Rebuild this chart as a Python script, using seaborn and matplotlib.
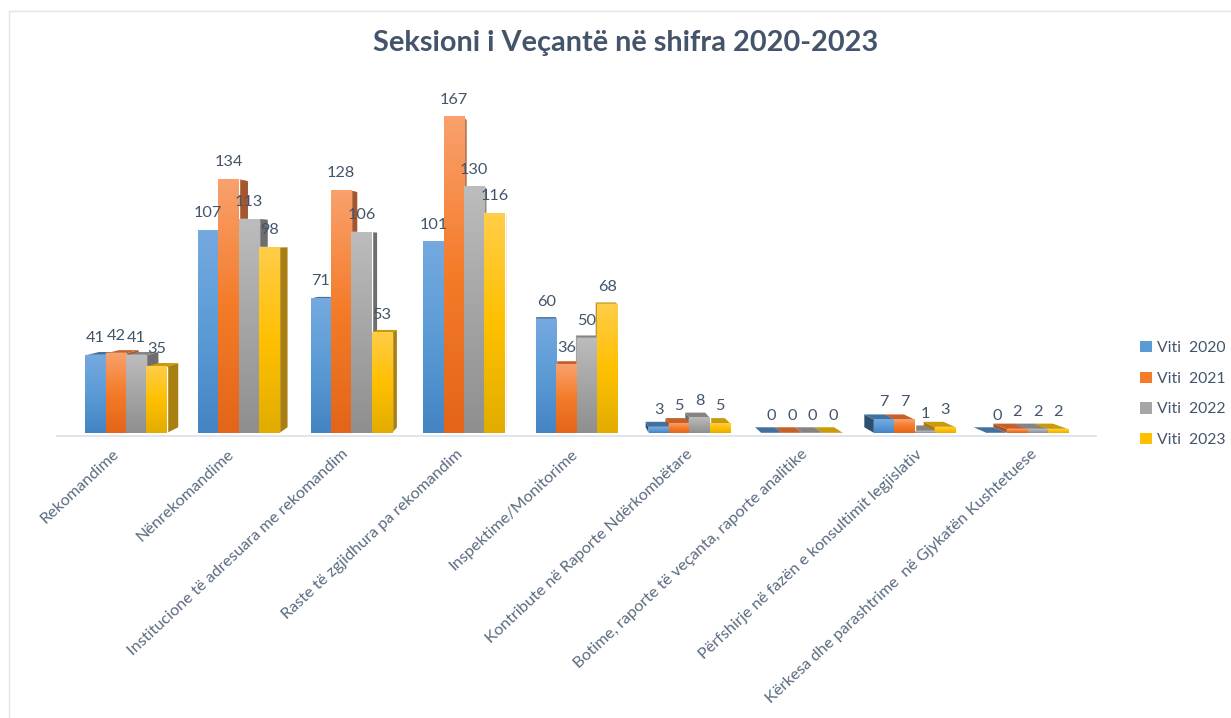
import numpy as np
import pandas as pd
import matplotlib
matplotlib.use("Agg")
import matplotlib.pyplot as plt
import seaborn as sns
from matplotlib.colors import LinearSegmentedColormap
from matplotlib.lines import Line2D
from matplotlib.patches import Polygon, Rectangle
from matplotlib.transforms import ScaledTranslation

categories = [
    "Rekomandime",
    "Nënrekomandime",
    "Institucione të adresuara me rekomandim",
    "Raste të zgjidhura pa rekomandim",
    "Inspektime/Monitorime",
    "Kontribute në Raporte Ndërkombëtare",
    "Botime, raporte të veçanta, raporte analitike",
    "Përfshirje në fazën e konsultimit legjislativ",
    "Kërkesa dhe parashtrime  në Gjykatën Kushtetuese",
]
series_names = ["Viti  2020", "Viti  2021", "Viti  2022", "Viti  2023"]
v2020 = [41, 107, 71, 101, 60, 3, 0, 7, 0]
v2021 = [42, 134, 128, 167, 36, 5, 0, 7, 2]
v2022 = [41, 113, 106, 130, 50, 8, 0, 1, 2]
v2023 = [35, 98, 53, 116, 68, 5, 0, 3, 2]

base_colors = ["#5b9bd5", "#f47b28", "#a5a5a5", "#ffc000"]
top_colors = ["#75a9e0", "#f9a06c", "#bcbcbc", "#ffcd48"]
low_colors = ["#4484c4", "#e4651a", "#8f8f8f", "#e2ad00"]
side_colors = ["#2d4f70", "#a5562d", "#6e6e6e", "#a87f10"]
cap_colors = ["#41719c", "#c5602a", "#848484", "#c99a0a"]
text_color = "#44546a"

# depth of the fake 3d, everything recedes to this point in data units
vanish_x, vanish_y = 3.75, 100
depth = 0.03

rows = []
for name, vals in zip(series_names, [v2020, v2021, v2022, v2023]):
    for cat, v in zip(categories, vals):
        rows.append({"cat": cat, "serie": name, "value": v})
df = pd.DataFrame(rows)

sns.set_theme(style="white")
plt.rcParams["font.family"] = ["Lato", "DejaVu Sans"]

W, H = 1231, 718
fig = plt.figure(figsize=(W / 100, H / 100), dpi=100, facecolor="white")
ax = fig.add_axes([57 / W, 1 - 436 / H, (1096 - 57) / W, (436 - 60) / H])

sns.barplot(data=df, x="cat", y="value", hue="serie", order=categories,
            hue_order=series_names, palette=base_colors, width=0.724,
            gap=0, saturation=1, dodge=True, legend=False, ax=ax, zorder=3)

xlim = (-0.612, 8.607)
ylim = (-1.6, 197)


def back(x, y):
    return x + depth * (vanish_x - x), y + depth * (vanish_y - y)


# back faces first, then gradient fronts on top
for s, cont in enumerate(ax.containers):
    cmap = LinearSegmentedColormap.from_list(
        "g%d" % s, [top_colors[s], base_colors[s], low_colors[s]])
    grad = np.linspace(0, 1, 64).reshape(-1, 1)
    for i, bar in enumerate(cont):
        x0, x1 = bar.get_x(), bar.get_x() + bar.get_width()
        h = bar.get_height()
        # left to right on the left part of the chart, the other way on the right
        order = s if x0 < vanish_x else 10 - s
        edge = x1 if x1 < vanish_x else x0
        ex, ey = back(edge, h)
        bx, by = back(edge, 0)
        ax.add_patch(Polygon([(edge, 0), (edge, h), (ex, ey), (bx, by)],
                             facecolor=side_colors[s], edgecolor="none", zorder=1 + order * 0.01))
        lx, ly = back(x0, h)
        rx, ry = back(x1, h)
        ax.add_patch(Polygon([(x0, h), (x1, h), (rx, ry), (lx, ly)],
                             facecolor=cap_colors[s], edgecolor="none", zorder=1.5 + order * 0.01))
        if h > 0:
            ax.imshow(grad, extent=(x0, x1, 0, h), origin="upper", aspect="auto",
                      cmap=cmap, zorder=4, interpolation="bilinear")
        ax.annotate(str(int(h)), (bar.get_x() + bar.get_width() / 2, h), xytext=(0, 12.4),
                    textcoords="offset points", ha="center", va="center",
                    fontsize=11.7, color=text_color, zorder=6)

ax.set_xlim(*xlim)
ax.set_ylim(*ylim)
ax.set_xlabel("")
ax.set_ylabel("")
ax.set_yticks([])
ax.tick_params(axis="x", length=0, pad=8)
ax.set_xticks(range(len(categories)))
ax.set_xticklabels(categories, rotation=43, ha="right", rotation_mode="anchor",
                   fontsize=11.7, color="#5b6b80")
# labels spread a little wider than the bars in the original
for i, lab in enumerate(ax.get_xticklabels()):
    shift = (-14 + 2.1 * i) / 100
    lab.set_transform(lab.get_transform() + ScaledTranslation(shift, 0, fig.dpi_scale_trans))
for side in ["top", "left", "right"]:
    ax.spines[side].set_visible(False)
ax.spines["bottom"].set_color("#d9e0e6")
ax.spines["bottom"].set_linewidth(1.2)
ax.patch.set_alpha(0)

fig.text(625.5 / W, 1 - 43 / H, "Seksioni i Veçantë në shifra 2020-2023", ha="center", va="center",
         fontsize=20.8, fontweight="bold", color=text_color)

handles = [Rectangle((0, 0), 1, 1, facecolor=c, edgecolor="none") for c in base_colors]
fig.legend(handles, series_names, loc="center left", bbox_to_anchor=(1132 / W, 1 - 394 / H),
           frameon=False, fontsize=11.3, labelcolor=text_color, labelspacing=1.05,
           handlelength=0.75, handleheight=0.75, handletextpad=0.35, borderpad=0)

# thin frame of the pasted chart
fig.add_artist(Line2D([9 / W, 9 / W], [0, 1 - 11 / H], color="#e4e4e4", lw=1))
fig.add_artist(Line2D([9 / W, 1], [1 - 11 / H, 1 - 11 / H], color="#e4e4e4", lw=1))

fig.savefig("out.png", dpi=100, facecolor="white")
